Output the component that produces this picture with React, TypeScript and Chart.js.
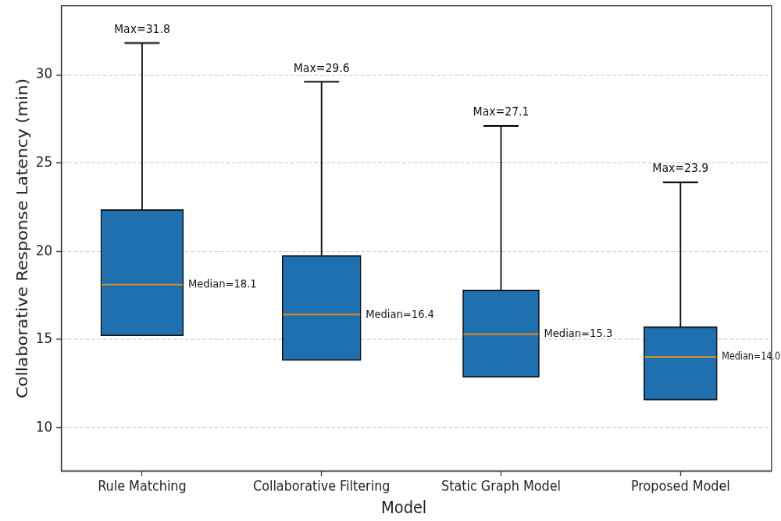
import React, { useEffect, useRef } from "react";
import { Chart, registerables } from "chart.js";

Chart.register(...registerables);

// ---- data ----
const categories = ["Rule Matching", "Collaborative Filtering", "Static Graph Model", "Proposed Model"];
const q1Values = [15.2, 13.8, 12.85, 11.55];
const q3Values = [22.35, 19.75, 17.8, 15.72];
const medianValues = [18.1, 16.4, 15.3, 14.0];
const maxValues = [31.8, 29.6, 27.1, 23.9];
const yTickValues = [10, 15, 20, 25, 30];
const xAxisTitle = "Model";
const yAxisTitle = "Collaborative Response Latency (min)";

// ---- styles ----
const BOX_WIDTHS = [106, 101, 98, 94];
const BOX_COLOR = "#1f70b0";
const MEDIAN_COLOR = "#d3892f";
const FONT = "'DejaVu Sans', sans-serif";
const CAP_HALF = 22.5;

const boxPlugin = {
  id: "boxExtras",
  afterDatasetsDraw(chart: any) {
    const ctx = chart.ctx;
    const xs = chart.scales.x;
    const ys = chart.scales.y;
    ctx.save();
    categories.forEach((_, i) => {
      const x = xs.getPixelForValue(i);
      const yTop = ys.getPixelForValue(q3Values[i]);
      const yMax = ys.getPixelForValue(maxValues[i]);
      const yMed = ys.getPixelForValue(medianValues[i]);
      const bar = chart.getDatasetMeta(i).data[0];
      const half = bar.width / 2;
      // whisker
      ctx.strokeStyle = "#111";
      ctx.lineWidth = 1.9;
      ctx.beginPath();
      ctx.moveTo(x, yTop);
      ctx.lineTo(x, yMax);
      ctx.stroke();
      // cap
      ctx.beginPath();
      ctx.moveTo(x - CAP_HALF, yMax);
      ctx.lineTo(x + CAP_HALF, yMax);
      ctx.stroke();
      // median
      ctx.strokeStyle = MEDIAN_COLOR;
      ctx.lineWidth = 2;
      ctx.beginPath();
      ctx.moveTo(bar.x - half + 1, yMed);
      ctx.lineTo(bar.x + half - 1, yMed);
      ctx.stroke();
      // labels
      ctx.fillStyle = "#111";
      ctx.font = `14px ${FONT}`;
      ctx.textAlign = "center";
      ctx.textBaseline = "alphabetic";
      ctx.fillText(`Max=${maxValues[i].toFixed(1)}`, x, yMax - 11.5);
      ctx.font = `13.1px ${FONT}`;
      ctx.textAlign = "left";
      ctx.textBaseline = "middle";
      const tx = bar.x + half + 6;
      ctx.fillText(`Median=${medianValues[i].toFixed(1)}`, tx, yMed, chart.width - tx - 1);
    });
    // spines
    const a = chart.chartArea;
    ctx.strokeStyle = "#333";
    ctx.lineWidth = 1.3;
    ctx.setLineDash([]);
    ctx.strokeRect(a.left, a.top, a.right - a.left, a.bottom - a.top);
    // x axis title
    ctx.fillStyle = "#222";
    ctx.font = `19.4px ${FONT}`;
    ctx.textAlign = "center";
    ctx.textBaseline = "middle";
    ctx.fillText(xAxisTitle, (a.left + a.right) / 2 - 16, chart.height - 14);
    ctx.restore();
  },
};

export default function App() {
  const ref = useRef<HTMLCanvasElement | null>(null);
  useEffect(() => {
    if (!ref.current) return;
    const chart = new Chart(ref.current, {
      type: "bar",
      data: {
        datasets: categories.map((c, i) => ({
          label: c,
          data: [{ x: i, y: [q1Values[i], q3Values[i]] }] as any,
          backgroundColor: BOX_COLOR,
          borderColor: "#111",
          borderWidth: 1.6,
          borderSkipped: false,
          barThickness: BOX_WIDTHS[i],
          grouped: false,
        })),
      },
      options: {
        responsive: false,
        animation: false,
        devicePixelRatio: 1,
        layout: { padding: { left: 14, top: 6.6, right: 12.2, bottom: 0 } },
        plugins: { legend: { display: false }, tooltip: { enabled: false } },
        scales: {
          x: {
            type: "linear",
            min: -0.45,
            max: 3.507,
            offset: false,
            afterBuildTicks: (s: any) => {
              s.ticks = categories.map((_, i) => ({ value: i }));
            },
            afterFit: (s: any) => {
              s.height = 57.7;
              s.paddingLeft = 0;
              s.paddingRight = 0;
            },
            ticks: {
              callback: (v: any) => categories[v as number] ?? "",
              font: { family: FONT, size: 16 },
              color: "#222",
              padding: 3,
              maxRotation: 0,
              autoSkip: false,
            },
            grid: { offset: false, drawOnChartArea: false, drawTicks: true, tickLength: 5.8, tickColor: "#333", tickWidth: 1.3 },
            border: { display: true, color: "#333", width: 1.3 },
            title: { display: false },
          },
          y: {
            type: "linear",
            min: 7.54,
            max: 33.91,
            afterBuildTicks: (s: any) => {
              s.ticks = yTickValues.map((v) => ({ value: v }));
            },
            afterFit: (s: any) => {
              s.width = 64.5;
              s.paddingTop = 0;
              s.paddingBottom = 0;
            },
            ticks: {
              font: { family: FONT, size: 16.7 },
              color: "#222",
              padding: 5,
            },
            grid: {
              color: "rgba(0,0,0,0.2)",
              lineWidth: 1,
              tickBorderDash: [],
              tickColor: "#333",
              tickWidth: 1.3,
              tickLength: 6.4,
            },
            border: { display: true, color: "#333", width: 1.3, dash: [5, 2.5] },
            title: {
              display: true,
              text: yAxisTitle,
              font: { family: FONT, size: 19.4 },
              color: "#222",
            },
          },
        },
      },
      plugins: [boxPlugin],
    });
    return () => chart.destroy();
  }, []);
  return (
    <div style={{ position: "absolute", left: 0, top: 0, width: 781, height: 521, background: "#fff" }}>
      <canvas ref={ref} width={1000} height={600} style={{ width: "781px", height: "521px", display: "block" }} />
    </div>
  );
}
